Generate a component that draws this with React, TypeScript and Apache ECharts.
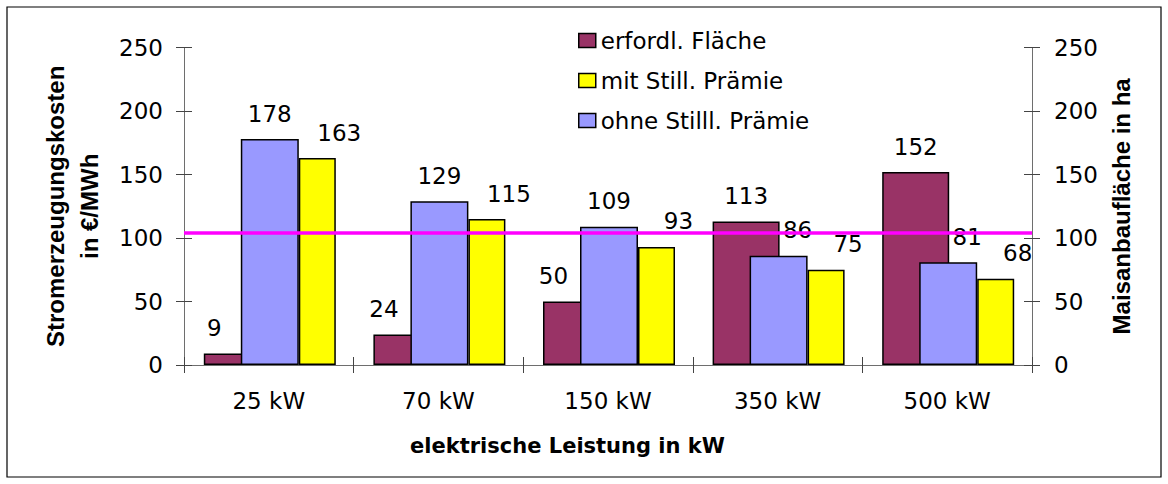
import React, { useEffect, useRef } from "react";
import * as echarts from "echarts";

const categories = ["25 kW", "70 kW", "150 kW", "350 kW", "500 kW"];
const flaeche = [9, 24, 50, 113, 152];
const mitPraemie = [163, 115, 93, 75, 68];
const ohnePraemie = [178, 129, 109, 86, 81];
const thresholdValue = 104;
const seriesNames = ["erfordl. Fläche", "mit Still. Prämie", "ohne Stilll. Prämie"];
const axisMin = 0;
const axisMax = 250;
const axisInterval = 50;

const FONT = "DejaVu Sans";
const AXIS_COLOR = "#6e6e6e";

export default function App() {
  const ref = useRef<HTMLDivElement>(null);
  useEffect(() => {
    if (!ref.current) return;
    const chart = echarts.init(ref.current, null, { renderer: "svg" });

    const labelStyle = {
      show: true,
      position: "top",
      distance: 14,
      color: "#000",
      fontFamily: FONT,
      fontSize: 23,
    };
    const border = { borderColor: "#000", borderWidth: 1.5 };

    const maroonData = flaeche.map((v, i) => ({
      value: v,
      label: { offset: [v < ohnePraemie[i] ? -23 : 0, 0] },
    }));
    const blueData = ohnePraemie.map((v, i) => ({
      value: v,
      label: { offset: [flaeche[i] > v ? 19 : 0, 0] },
    }));
    const yellowData = mitPraemie.map((v) => ({
      value: v,
      label: { offset: [22, 0] },
    }));

    const yBase = {
      type: "value",
      min: axisMin,
      max: axisMax,
      interval: axisInterval,
      splitLine: { show: false },
    };

    const option = {
      animation: false,
      backgroundColor: "#fff",
      grid: { left: 184, right: 136, top: 47.7, bottom: 119 },
      legend: {
        data: seriesNames,
        orient: "vertical",
        left: 573,
        top: 24,
        itemWidth: 17,
        itemHeight: 14,
        itemGap: 17,
        icon: "rect",
        itemStyle: { borderColor: "#000", borderWidth: 1.5 },
        textStyle: { fontFamily: FONT, fontSize: 23, color: "#000", lineHeight: 23 },
      },
      xAxis: [
        {
          type: "category",
          data: categories,
          position: "bottom",
          axisLine: { lineStyle: { color: AXIS_COLOR, width: 1 } },
          axisTick: { show: true, inside: false, length: 8, lineStyle: { color: "#444" } },
          axisLabel: { color: "#000", fontFamily: FONT, fontSize: 23, margin: 24 },
          name: "elektrische Leistung in kW",
          nameLocation: "middle",
          nameGap: 70,
          nameTextStyle: {
            fontFamily: FONT,
            fontWeight: "bold",
            fontSize: 21,
            color: "#000",
            padding: [0, 81, 0, 0],
          },
        },
        {
          type: "category",
          data: categories,
          position: "bottom",
          axisLine: { show: false },
          axisTick: { show: true, inside: true, length: 8, lineStyle: { color: "#444" } },
          axisLabel: { show: false },
        },
      ],
      yAxis: [
        {
          ...yBase,
          position: "left",
          axisLine: { show: true, lineStyle: { color: AXIS_COLOR } },
          axisTick: { show: true, inside: false, length: 8, lineStyle: { color: "#444" } },
          axisLabel: { color: "#000", fontFamily: FONT, fontSize: 23, margin: 21 },
          name: "Stromerzeugungskosten\nin €/MWh",
          nameLocation: "middle",
          nameRotate: 90,
          nameGap: 78,
          nameTextStyle: {
            fontFamily: "Liberation Sans",
            fontWeight: "bold",
            fontSize: 24,
            color: "#000",
            lineHeight: 34,
            align: "center",
          },
        },
        {
          ...yBase,
          position: "right",
          axisLine: { show: true, lineStyle: { color: AXIS_COLOR } },
          axisTick: { show: true, inside: false, length: 8, lineStyle: { color: "#444" } },
          axisLabel: { color: "#000", fontFamily: FONT, fontSize: 23, margin: 22 },
          name: "Maisanbaufläche in ha",
          nameLocation: "middle",
          nameRotate: 90,
          nameGap: 77,
          nameTextStyle: {
            fontFamily: "Liberation Sans",
            fontWeight: "bold",
            fontSize: 24,
            color: "#000",
          },
        },
        {
          ...yBase,
          position: "left",
          axisLine: { show: false },
          axisTick: { show: true, inside: true, length: 8, lineStyle: { color: "#444" } },
          axisLabel: { show: false },
        },
        {
          ...yBase,
          position: "right",
          axisLine: { show: false },
          axisTick: { show: true, inside: true, length: 8, lineStyle: { color: "#444" } },
          axisLabel: { show: false },
        },
      ],
      series: [
        {
          name: seriesNames[0],
          type: "bar",
          xAxisIndex: 1,
          yAxisIndex: 1,
          barWidth: 67,
          barGap: "0%",
          data: maroonData,
          itemStyle: { color: "#993366", ...border },
          label: labelStyle,
        },
        {
          name: "_pad_right",
          type: "bar",
          xAxisIndex: 1,
          yAxisIndex: 1,
          barWidth: 63,
          barGap: "0%",
          data: [],
          silent: true,
        },
        {
          name: "_pad_left",
          type: "bar",
          xAxisIndex: 0,
          yAxisIndex: 0,
          barWidth: 39,
          barGap: "0%",
          data: [],
          silent: true,
        },
        {
          name: seriesNames[2],
          type: "bar",
          xAxisIndex: 0,
          yAxisIndex: 0,
          barWidth: 58,
          barGap: "0%",
          data: blueData,
          itemStyle: { color: "#9999FF", ...border },
          label: labelStyle,
        },
        {
          name: seriesNames[1],
          type: "bar",
          xAxisIndex: 0,
          yAxisIndex: 0,
          barWidth: 37,
          barGap: "0%",
          data: yellowData,
          itemStyle: { color: "#FFFF00", ...border },
          label: labelStyle,
          markLine: {
            silent: true,
            symbol: "none",
            label: { show: false },
            lineStyle: { color: "#FF00FF", width: 3.5, type: "solid" },
            z: 10,
            data: [{ yAxis: thresholdValue }],
          },
        },
      ],
      graphic: [
        {
          type: "rect",
          shape: { x: 7, y: 7, width: 1154, height: 470 },
          style: { fill: "none", stroke: "#000", lineWidth: 1.2 },
          silent: true,
          z: -1,
        },
      ],
    };

    chart.setOption(option as any);
    return () => chart.dispose();
  }, []);

  return (
    <div
      ref={ref}
      style={{ position: "absolute", left: 0, top: 0, width: 1168, height: 484 }}
    />
  );
}
